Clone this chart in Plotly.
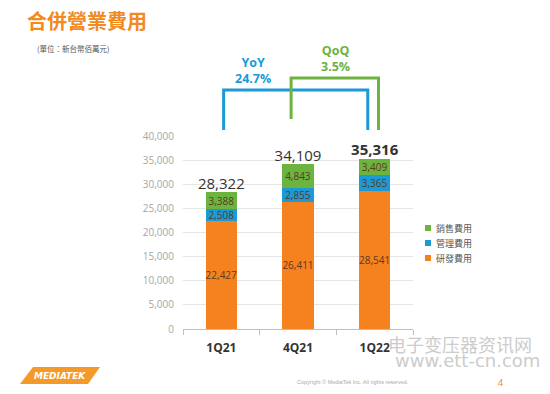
import plotly.graph_objects as go

categories = ["1Q21", "4Q21", "1Q22"]
rd = [22427, 26411, 28541]        # 研發費用
admin = [2508, 2855, 3365]        # 管理費用
sales = [3388, 4843, 3409]        # 銷售費用
totals = [28322, 34109, 35316]
total_labels = ["28,322", "34,109", "<b>35,316</b>"]

ORANGE = "#f5821f"
BLUE = "#1b9ad6"
GREEN = "#6cb33f"
FONT = "Noto Sans CJK TC"

W, H = 550, 394
pl, pr, pt, pb = 183, 137, 136, 65
pw, ph = W - pl - pr, H - pt - pb

def px(x, y):
    return (x - pl) / pw, (H - pb - y) / ph

fig = go.Figure()
seg_font = dict(family="Open Sans", size=10, color="#5a3b22")
series = [("研發費用", rd, ORANGE), ("管理費用", admin, BLUE), ("銷售費用", sales, GREEN)]
for name, vals, col in series:
    fig.add_trace(go.Bar(
        x=categories, y=vals, name=name, marker=dict(color=col, line=dict(width=0)),
        text=[f"{v:,}" for v in vals], textposition="inside", insidetextanchor="middle",
        textangle=0, textfont=seg_font, constraintext="none", width=0.41,
        hoverinfo="skip", showlegend=False))

fig.add_trace(go.Scatter(
    x=categories, y=totals, mode="text", text=total_labels, textposition="top center",
    textfont=dict(family="Open Sans", size=15, color="#333333"), showlegend=False,
    hoverinfo="skip", cliponaxis=False))

def add_text(x, y, text, size, color, family=FONT, anchor="left"):
    ax, ay = px(x, y)
    fig.add_annotation(x=ax, y=ay, xref="paper", yref="paper", text=text, showarrow=False,
                       xanchor=anchor, yanchor="middle", font=dict(family=family, size=size, color=color))

# brackets (x in category units, y in pixel-derived paper coords)
_, yb = px(0, 130)
_, yt_b = px(0, 90)
_, yt_g = px(0, 78)
_, yl_g = px(0, 119)
fig.add_shape(type="path", xref="x", yref="paper",
              path=f"M 0.03,{yb} L 0.03,{yt_b} L 1.91,{yt_b} L 1.91,{yb}",
              line=dict(color=BLUE, width=3))
fig.add_shape(type="path", xref="x", yref="paper",
              path=f"M 0.91,{yl_g} L 0.91,{yt_g} L 2.05,{yt_g} L 2.05,{yb}",
              line=dict(color=GREEN, width=3))
add_text(253, 71, "<b>YoY<br>24.7%</b>", 12.5, BLUE, family="Open Sans", anchor="center")
add_text(335, 59, "<b>QoQ<br>3.5%</b>", 12.5, GREEN, family="Open Sans", anchor="center")

# legend (drawn manually to match spacing)
for i, (name, vals, col) in enumerate(reversed(series)):
    ly = 228 + i * 15
    sx0, sy0 = px(425, ly - 3)
    sx1, sy1 = px(431, ly + 3)
    fig.add_shape(type="rect", xref="paper", yref="paper", x0=sx0, y0=sy0, x1=sx1, y1=sy1,
                  fillcolor=col, line=dict(width=0))
    add_text(434, ly, name, 9, "#555555")

add_text(25, 20, "<b>合併營業費用</b>", 20, "#f28a22")
add_text(35, 49, "(單位：新台幣佰萬元)", 7.5, "#555555")

# watermark
add_text(386, 344, "电子变压器资讯网", 18, "#cccccc", family="Noto Sans CJK SC")
add_text(393, 360, "www.ett-cn.com", 18, "#cccccc", family="DejaVu Sans")

# footer
add_text(295, 382, "Copyright © MediaTek Inc. All rights reserved.", 5.5, "#aaaaaa", family="Liberation Sans")
add_text(500, 382, "4", 9, ORANGE, family="Open Sans", anchor="center")

# logo
x0, y0 = px(33, 367)
x1, y1 = px(100, 367)
x2, y2 = px(88, 384)
x3, y3 = px(20, 384)
fig.add_shape(type="path", xref="paper", yref="paper",
              path=f"M {x0},{y0} L {x1},{y1} L {x2},{y2} L {x3},{y3} Z",
              fillcolor="#f39a2b", line=dict(width=0))
add_text(60, 375.5, "<b><i>MEDIATEK</i></b>", 9, "white", family="DejaVu Sans", anchor="center")

fig.update_layout(
    barmode="stack", width=W, height=H,
    margin=dict(l=pl, r=pr, t=pt, b=pb, autoexpand=False),
    paper_bgcolor="white", plot_bgcolor="white",
    font=dict(family=FONT),
    showlegend=False,
    hovermode=False,
    xaxis=dict(showline=True, linecolor="#bfbfbf", linewidth=1, ticks="outside", tickson="boundaries",
               ticklen=5, tickcolor="#bfbfbf", automargin=False, ticklabelstandoff=8,
               tickfont=dict(family="Open Sans", size=12, color="#333333", weight="bold")),
    yaxis=dict(range=[0, 40000], dtick=5000, tickformat=",", gridcolor="#e6e6e6", zeroline=False,
               automargin=False, ticklabelstandoff=8,
               tickfont=dict(family="Open Sans", size=10, color="#a6a6a6"), ticks=""),
)

fig.write_html("out.html", config={"displayModeBar": False},
               post_script="document.body.style.margin='0';document.body.style.overflow='hidden';")
